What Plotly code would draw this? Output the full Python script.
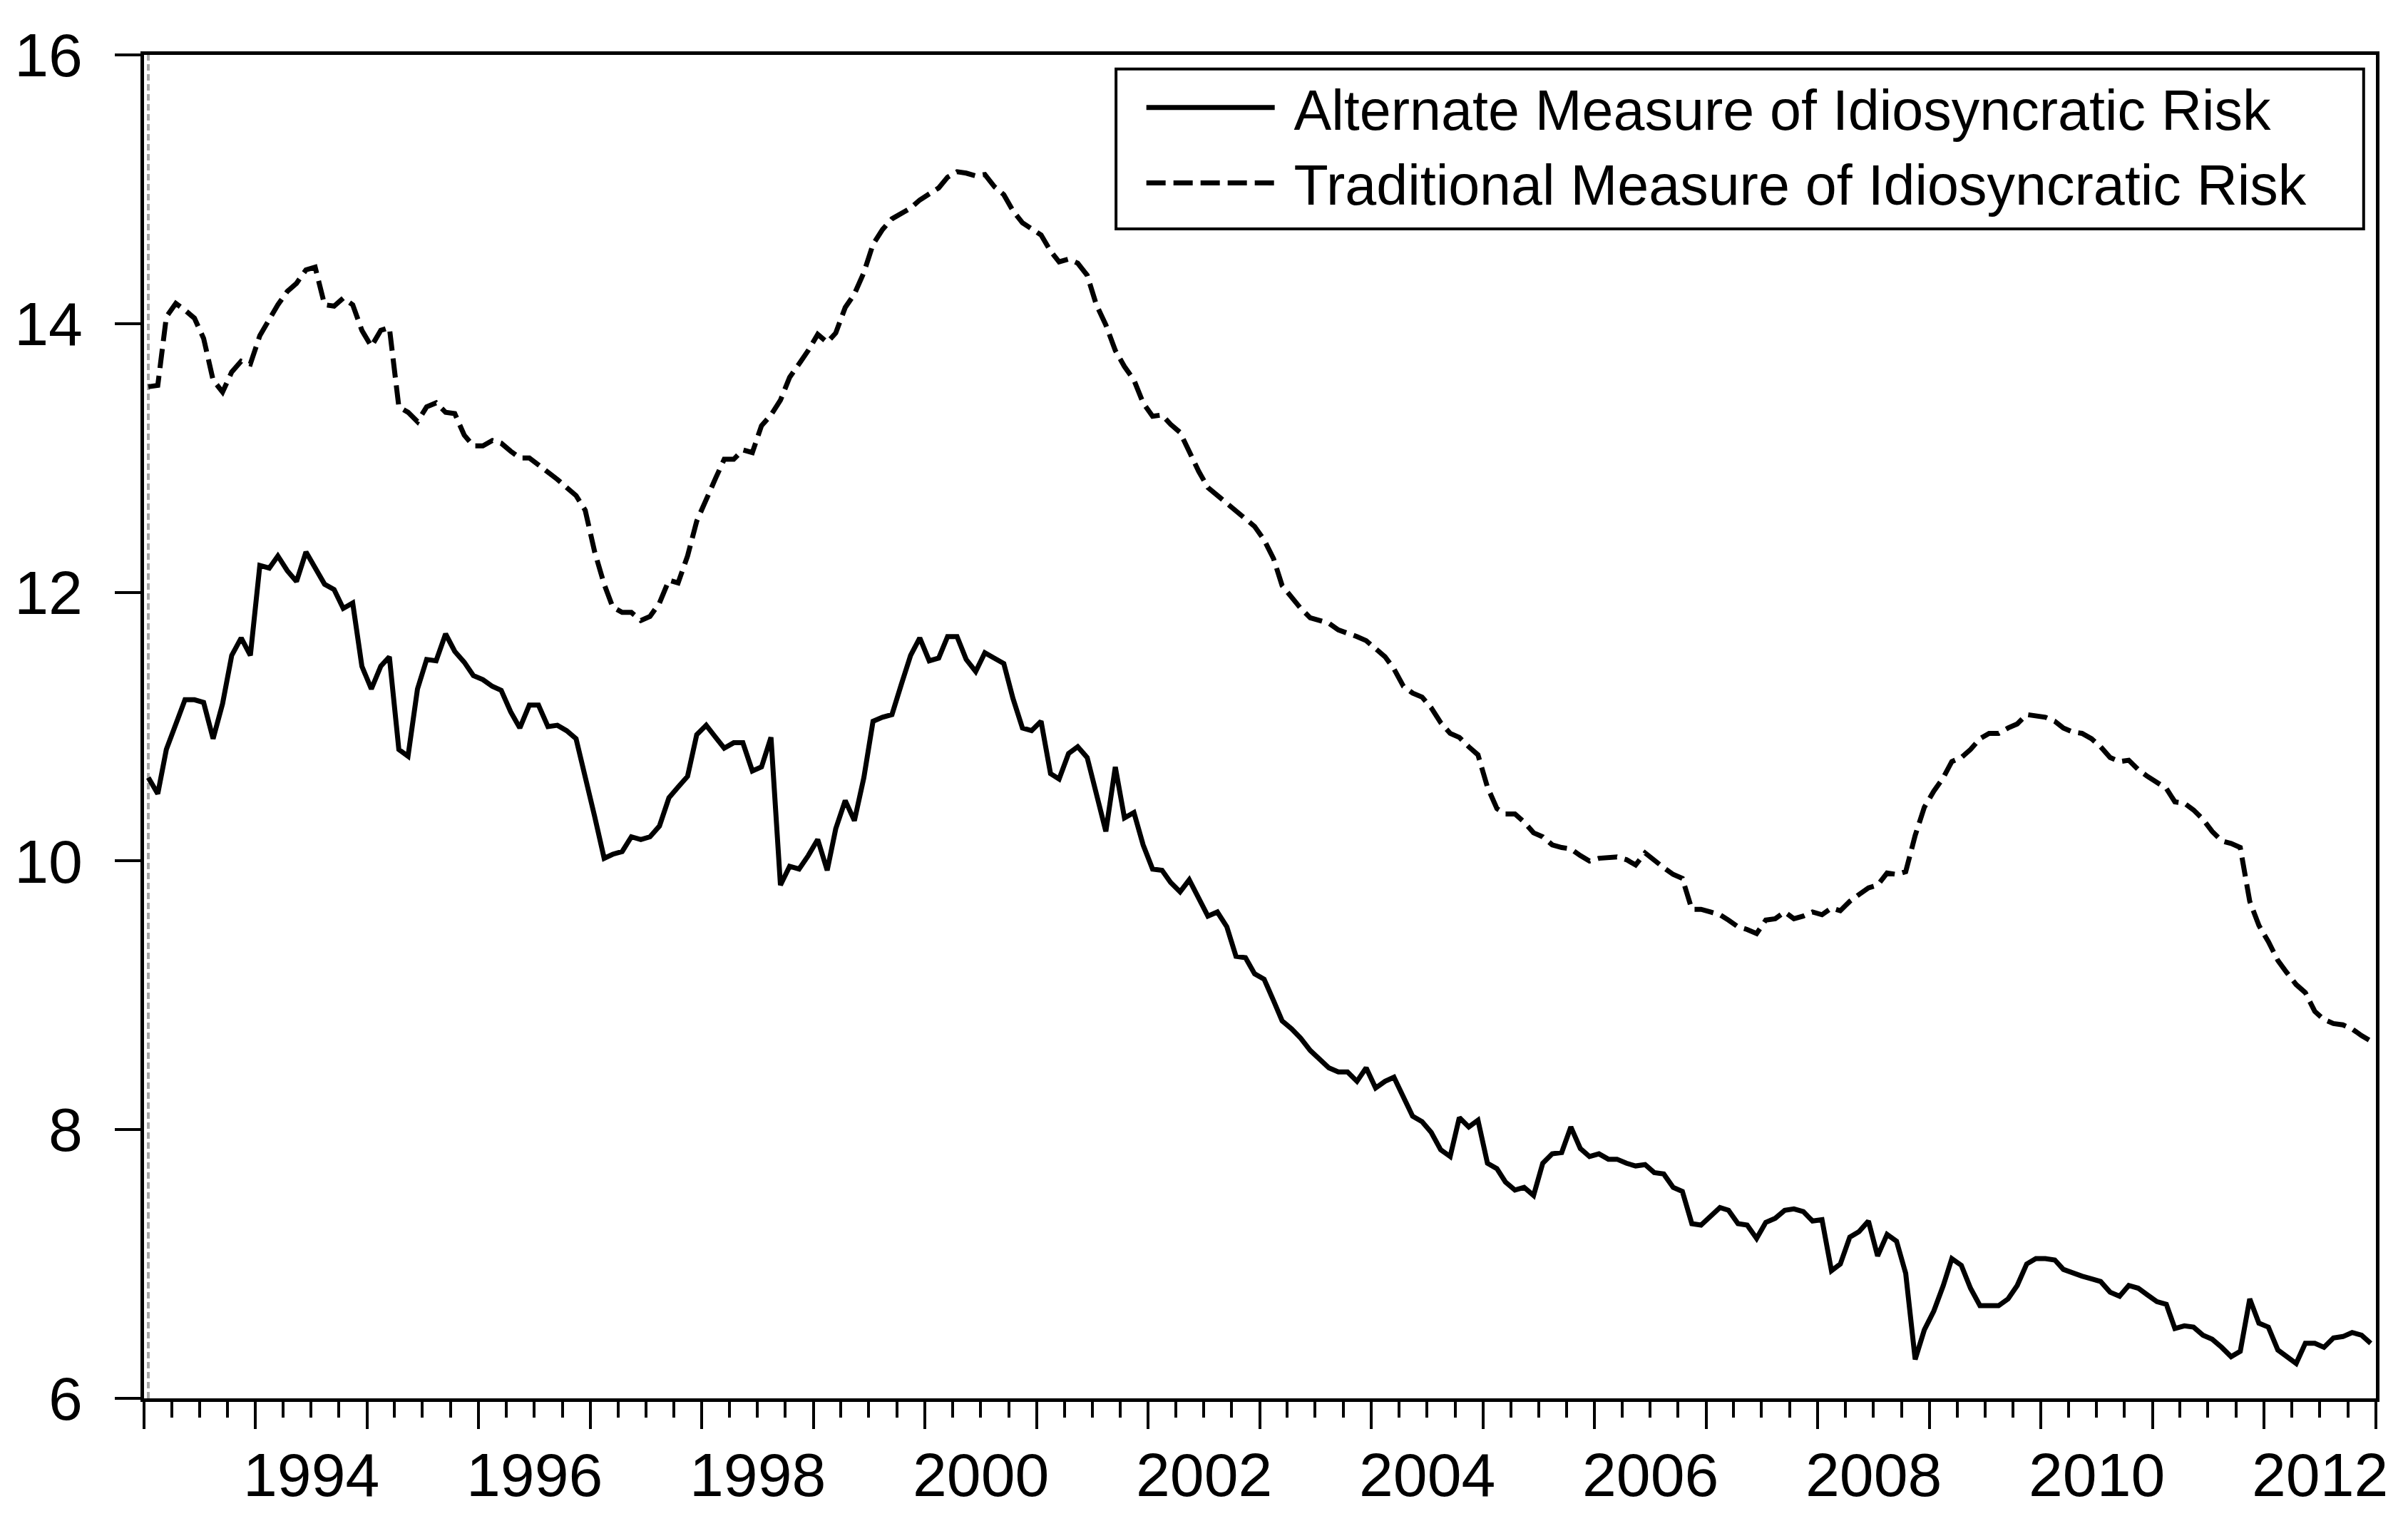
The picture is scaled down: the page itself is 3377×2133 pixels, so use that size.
import pandas as pd
import plotly.graph_objects as go

# ---- data (monthly, 1993:01 - 2012:12) ----
start_month = "1993-01-01"
n_months = 240

alternate_risk = [
    10.62, 10.50, 10.83, 11.03, 11.20, 11.20, 11.18, 10.91, 11.17, 11.53, 11.66, 11.53,  # 1993
    12.20, 12.18, 12.27, 12.16, 12.08, 12.30, 12.19, 12.06, 12.02, 11.88, 11.92, 11.45,  # 1994
    11.28, 11.45, 11.52, 10.83, 10.78, 11.28, 11.50, 11.49, 11.69, 11.56, 11.48, 11.38,  # 1995
    11.35, 11.30, 11.27, 11.11, 10.99, 11.16, 11.16, 11.00, 11.01, 10.97, 10.91, 10.64,  # 1996
    10.33, 10.02, 10.05, 10.07, 10.18, 10.16, 10.18, 10.26, 10.47, 10.55, 10.63, 10.94,  # 1997
    11.01, 10.92, 10.84, 10.88, 10.88, 10.67, 10.70, 10.92, 9.82, 9.96, 9.94, 10.04,     # 1998
    10.16, 9.93, 10.24, 10.45, 10.30, 10.62, 11.04, 11.07, 11.09, 11.31, 11.53, 11.66,   # 1999
    11.49, 11.51, 11.67, 11.67, 11.50, 11.41, 11.55, 11.51, 11.47, 11.21, 10.99, 10.97,  # 2000
    11.04, 10.65, 10.61, 10.80, 10.85, 10.77, 10.50, 10.22, 10.70, 10.32, 10.36, 10.12,  # 2001
    9.94, 9.93, 9.84, 9.77, 9.86, 9.73, 9.59, 9.62, 9.51, 9.29, 9.28, 9.16,              # 2002
    9.12, 8.96, 8.81, 8.75, 8.68, 8.59, 8.53, 8.46, 8.43, 8.43, 8.36, 8.46,              # 2003
    8.31, 8.36, 8.39, 8.24, 8.10, 8.06, 7.98, 7.85, 7.80, 8.09, 8.02, 8.07,              # 2004
    7.75, 7.71, 7.61, 7.55, 7.57, 7.51, 7.75, 7.82, 7.83, 8.02, 7.86, 7.80,              # 2005
    7.82, 7.78, 7.78, 7.75, 7.73, 7.74, 7.68, 7.67, 7.57, 7.54, 7.30, 7.29,              # 2006
    7.35, 7.42, 7.40, 7.30, 7.29, 7.19, 7.31, 7.34, 7.40, 7.41, 7.39, 7.32,              # 2007
    7.33, 6.95, 7.00, 7.20, 7.24, 7.32, 7.06, 7.22, 7.17, 6.93, 6.29, 6.51,              # 2008
    6.65, 6.84, 7.04, 6.99, 6.82, 6.69, 6.69, 6.69, 6.74, 6.84, 7.00, 7.04,              # 2009
    7.04, 7.03, 6.96, 6.93, 6.91, 6.89, 6.87, 6.79, 6.76, 6.84, 6.82, 6.77,              # 2010
    6.72, 6.70, 6.52, 6.54, 6.53, 6.47, 6.44, 6.38, 6.31, 6.35, 6.74, 6.56,              # 2011
    6.53, 6.36, 6.31, 6.26, 6.41, 6.41, 6.38, 6.45, 6.46, 6.49, 6.47, 6.41,              # 2012
]

traditional_risk = [
    13.53, 13.54, 14.05, 14.15, 14.10, 14.04, 13.89, 13.58, 13.49, 13.64, 13.72, 13.70,  # 1993
    13.91, 14.03, 14.14, 14.24, 14.30, 14.40, 14.42, 14.14, 14.13, 14.19, 14.14, 13.95,  # 1994
    13.83, 13.95, 13.97, 13.38, 13.34, 13.27, 13.38, 13.41, 13.34, 13.33, 13.17, 13.09,  # 1995
    13.09, 13.13, 13.11, 13.05, 13.00, 13.00, 12.95, 12.90, 12.84, 12.78, 12.72, 12.61,  # 1996
    12.30, 12.06, 11.89, 11.85, 11.85, 11.79, 11.82, 11.92, 12.09, 12.07, 12.27, 12.53,  # 1997
    12.70, 12.85, 12.99, 12.99, 13.06, 13.04, 13.24, 13.32, 13.43, 13.60, 13.70, 13.80,  # 1998
    13.92, 13.86, 13.93, 14.12, 14.22, 14.38, 14.59, 14.70, 14.78, 14.82, 14.86, 14.92,  # 1999
    14.97, 15.01, 15.09, 15.13, 15.12, 15.10, 15.11, 15.02, 14.96, 14.84, 14.75, 14.71,  # 2000
    14.66, 14.54, 14.46, 14.48, 14.45, 14.36, 14.14, 13.99, 13.80, 13.68, 13.58, 13.41,  # 2001
    13.31, 13.32, 13.25, 13.19, 13.04, 12.90, 12.78, 12.72, 12.66, 12.60, 12.55, 12.49,  # 2002
    12.39, 12.25, 12.05, 11.96, 11.88, 11.81, 11.79, 11.77, 11.72, 11.70, 11.67, 11.64,  # 2003
    11.58, 11.52, 11.43, 11.30, 11.25, 11.22, 11.14, 11.03, 10.95, 10.92, 10.85, 10.79,  # 2004
    10.55, 10.39, 10.35, 10.35, 10.29, 10.21, 10.18, 10.12, 10.10, 10.09, 10.04, 10.00,  # 2005
    10.02, 10.03, 10.03, 10.01, 9.97, 10.06, 10.00, 9.95, 9.90, 9.87, 9.64, 9.64,        # 2006
    9.62, 9.60, 9.56, 9.51, 9.49, 9.46, 9.56, 9.57, 9.62, 9.57, 9.59, 9.62,              # 2007
    9.60, 9.65, 9.63, 9.70, 9.75, 9.80, 9.82, 9.91, 9.90, 9.92, 10.19, 10.40,            # 2008
    10.52, 10.62, 10.74, 10.77, 10.83, 10.91, 10.95, 10.95, 10.99, 11.02, 11.09, 11.08,  # 2009
    11.07, 11.04, 10.99, 10.96, 10.95, 10.91, 10.85, 10.77, 10.74, 10.75, 10.68, 10.63,  # 2010
    10.58, 10.54, 10.44, 10.43, 10.38, 10.31, 10.22, 10.15, 10.13, 10.10, 9.70, 9.52,    # 2011
    9.40, 9.26, 9.17, 9.08, 9.02, 8.88, 8.82, 8.79, 8.78, 8.75, 8.70, 8.66,              # 2012
]

label_years = ["1994", "1996", "1998", "2000", "2002", "2004", "2006", "2008", "2010", "2012"]
y_ticks = [6, 8, 10, 12, 14, 16]

series_names = ["Alternate Measure of Idiosyncratic Risk",
                "Traditional Measure of Idiosyncratic Risk"]

# observations plotted at the middle of each month
dates = pd.date_range(start_month, periods=n_months, freq="MS") + pd.Timedelta(days=14)
year_starts = [f"{y}-01-01" for y in range(1993, 2014)]
label_pos = [f"{y}-07-02" for y in label_years]

FONT = "Liberation Sans, Arial, Helvetica, sans-serif"
NB = "\u00a0"

fig = go.Figure()
fig.add_trace(go.Scatter(
    x=dates, y=alternate_risk, mode="lines", name=NB + series_names[0],
    line=dict(color="black", width=7),
))
fig.add_trace(go.Scatter(
    x=dates, y=traditional_risk, mode="lines", name=NB + series_names[1],
    line=dict(color="black", width=7, dash="27px,11px"),
))

# gray dashed marker at the first observation
fig.add_shape(type="line", xref="x", yref="paper",
              x0=dates[0], x1=dates[0], y0=0, y1=1,
              line=dict(color="#a8a8a8", width=4, dash="9px,5px"), layer="below")

# legend frame (white box with black border)
fig.add_shape(type="rect", xref="paper", yref="paper",
              x0=0.4355, x1=0.9945, y0=0.8705, y1=0.9895,
              line=dict(color="black", width=4), fillcolor="white", layer="above")

# year labels centred on each labelled year
for pos, txt in zip(label_pos, label_years):
    fig.add_annotation(x=pos, xref="x", y=0, yref="paper", text=txt,
                       showarrow=False, xanchor="center", yanchor="middle",
                       yshift=-107, font=dict(family=FONT, size=86, color="black"))

x_range = ["1993-01-01", "2013-01-01"]

fig.update_layout(
    width=3377, height=2133,
    margin=dict(l=185, r=53, t=69, b=180),
    paper_bgcolor="white", plot_bgcolor="white",
    font=dict(family=FONT, color="black", size=86),
    showlegend=True,
    legend=dict(
        x=0.4475, xanchor="left", y=0.9915, yanchor="top",
        bgcolor="rgba(0,0,0,0)", borderwidth=0,
        font=dict(family=FONT, size=79, color="black"),
        itemwidth=180, tracegroupgap=0,
    ),
    xaxis=dict(
        type="date", range=x_range,
        tickmode="array", tickvals=year_starts, showticklabels=False,
        ticks="outside", ticklen=38, tickwidth=4, tickcolor="black",
        minor=dict(tickmode="linear", tick0="1993-01-01", dtick="M3",
                   ticks="outside", ticklen=22, tickwidth=4, tickcolor="black",
                   showgrid=False),
        showgrid=False, zeroline=False,
        showline=True, linecolor="black", linewidth=5, mirror=True,
    ),
    yaxis=dict(
        range=[6, 16], tickmode="array", tickvals=y_ticks,
        ticks="outside", ticklen=36, tickwidth=4, tickcolor="black",
        tickfont=dict(family=FONT, size=86, color="black"),
        ticklabelstandoff=28,
        showgrid=False, zeroline=False,
        showline=True, linecolor="black", linewidth=5, mirror=True,
    ),
)

fig.write_html("out.html")
